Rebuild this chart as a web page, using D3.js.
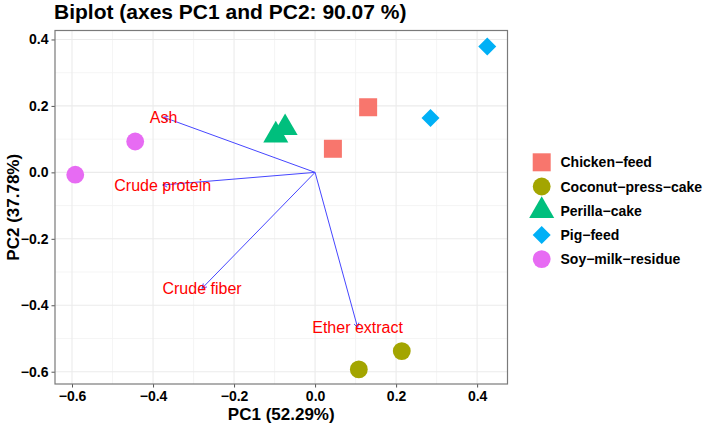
<!DOCTYPE html>
<html>
<head>
<meta charset="utf-8">
<script src="https://d3js.org/d3.v7.min.js" charset="utf-8"></script>
<style>
  body { margin: 0; background: #fff; }
  text { font-family: "Liberation Sans", Arial, Helvetica, sans-serif; }
  .tick text { font-weight: bold; fill: #000; }
</style>
</head>
<body>
<svg id="biplot" width="707" height="426"></svg>
<script>
// group scores (PC1, PC2)
const groups = ["Chicken\u2212feed", "Coconut\u2212press\u2212cake", "Perilla\u2212cake", "Pig\u2212feed", "Soy\u2212milk\u2212residue"];
const groupColors = ["#F8766D", "#A3A500", "#00BF7D", "#00B0F6", "#E76BF3"];
const groupShapes = ["square", "circle", "triangle", "diamond", "circle"];

const pc1 = [0.044, 0.131, 0.108, 0.214, -0.097, -0.074, 0.285, 0.425, -0.444, -0.592];
const pc2 = [0.071, 0.196, -0.593, -0.538, 0.112, 0.134, 0.164, 0.379, 0.093, -0.007];
const sampleGroup = [0, 0, 1, 1, 2, 2, 3, 3, 4, 4];

// variable loadings (arrows)
const variables = ["Ash", "Crude protein", "Crude fiber", "Ether extract"];
const loadX = [-0.374, -0.376, -0.279, 0.105];
const loadY = [0.166, -0.038, -0.349, -0.467];

const xTicks = [-0.6, -0.4, -0.2, 0.0, 0.2, 0.4];
const yTicks = [-0.6, -0.4, -0.2, 0.0, 0.2, 0.4];
const xMinor = [-0.5, -0.3, -0.1, 0.1, 0.3];
const yMinor = [-0.5, -0.3, -0.1, 0.1, 0.3];

const svg = d3.select("#biplot");
const panel = { left: 55, right: 507.5, top: 30.5, bottom: 384 };

const x = d3.scaleLinear().domain([-0.642, 0.475]).range([panel.left, panel.right]);
const y = d3.scaleLinear().domain([-0.637, 0.427]).range([panel.bottom, panel.top]);

// title
svg.append("text")
    .attr("x", 54).attr("y", 19)
    .attr("font-size", 21).attr("font-weight", "bold")
    .text("Biplot (axes PC1 and PC2: 90.07 %)");

// gridlines
const grid = svg.append("g");
grid.selectAll("line.xminor").data(xMinor).join("line")
    .attr("x1", d => x(d)).attr("x2", d => x(d))
    .attr("y1", panel.top).attr("y2", panel.bottom)
    .attr("stroke", "#f3f3f3").attr("stroke-width", 0.8);
grid.selectAll("line.yminor").data(yMinor).join("line")
    .attr("y1", d => y(d)).attr("y2", d => y(d))
    .attr("x1", panel.left).attr("x2", panel.right)
    .attr("stroke", "#f3f3f3").attr("stroke-width", 0.8);
grid.selectAll("line.xmajor").data(xTicks).join("line")
    .attr("x1", d => x(d)).attr("x2", d => x(d))
    .attr("y1", panel.top).attr("y2", panel.bottom)
    .attr("stroke", "#ebebeb").attr("stroke-width", 1.1);
grid.selectAll("line.ymajor").data(yTicks).join("line")
    .attr("y1", d => y(d)).attr("y2", d => y(d))
    .attr("x1", panel.left).attr("x2", panel.right)
    .attr("stroke", "#ebebeb").attr("stroke-width", 1.1);

// axes
const fmt = d => (d < 0 ? "\u2212" : "") + Math.abs(d).toFixed(1);
const xAxis = svg.append("g")
    .attr("transform", `translate(0,${panel.bottom})`)
    .call(d3.axisBottom(x).tickValues(xTicks).tickFormat(fmt).tickSize(3.5).tickPadding(4));
const yAxis = svg.append("g")
    .attr("transform", `translate(${panel.left},0)`)
    .call(d3.axisLeft(y).tickValues(yTicks).tickFormat(fmt).tickSize(3.5).tickPadding(3));
[xAxis, yAxis].forEach(a => {
    a.select(".domain").remove();
    a.selectAll(".tick line").attr("stroke", "#555");
    a.selectAll(".tick text").attr("font-size", 14);
});

// panel border
svg.append("rect")
    .attr("x", panel.left).attr("y", panel.top)
    .attr("width", panel.right - panel.left).attr("height", panel.bottom - panel.top)
    .attr("fill", "none").attr("stroke", "#7a7a7a").attr("stroke-width", 1.2);

// axis titles
svg.append("text")
    .attr("x", (panel.left + panel.right) / 2).attr("y", 420)
    .attr("text-anchor", "middle").attr("font-size", 17).attr("font-weight", "bold")
    .text("PC1 (52.29%)");
svg.append("text")
    .attr("transform", `translate(19,${(panel.top + panel.bottom) / 2}) rotate(-90)`)
    .attr("text-anchor", "middle").attr("font-size", 17).attr("font-weight", "bold")
    .text("PC2 (37.78%)");

// symbols
function shapePath(shape) {
    if (shape === "square") return d3.symbol(d3.symbolSquare, 324)();
    if (shape === "triangle") return d3.symbol(d3.symbolTriangle, 272)();
    if (shape === "diamond") return d3.symbol(d3.symbolSquare, 162)();
    return d3.symbol(d3.symbolCircle, 250)();
}
function shapeTransform(shape, px, py) {
    return `translate(${px},${py})` + (shape === "diamond" ? " rotate(45)" : "");
}

// arrows
const origin = [x(0), y(0)];
const arrows = svg.append("g").attr("stroke", "#4646ff").attr("stroke-width", 1).attr("fill", "none");
variables.forEach((v, i) => {
    const ex = x(loadX[i]), ey = y(loadY[i]);
    arrows.append("line")
        .attr("x1", origin[0]).attr("y1", origin[1])
        .attr("x2", ex).attr("y2", ey);
    const ang = Math.atan2(ey - origin[1], ex - origin[0]);
    const len = 5, spread = Math.PI / 6;
    const p1 = [ex - len * Math.cos(ang - spread), ey - len * Math.sin(ang - spread)];
    const p2 = [ex - len * Math.cos(ang + spread), ey - len * Math.sin(ang + spread)];
    arrows.append("path").attr("d", `M${p1}L${ex},${ey}L${p2}`);
});

// points
svg.append("g").selectAll("path")
    .data(d3.range(pc1.length))
    .join("path")
    .attr("d", i => shapePath(groupShapes[sampleGroup[i]]))
    .attr("transform", i => shapeTransform(groupShapes[sampleGroup[i]], x(pc1[i]), y(pc2[i])))
    .attr("fill", i => groupColors[sampleGroup[i]]);

// variable labels
svg.append("g").selectAll("text")
    .data(variables)
    .join("text")
    .attr("x", (d, i) => x(loadX[i]))
    .attr("y", (d, i) => y(loadY[i]))
    .attr("dy", "0.35em")
    .attr("text-anchor", "middle")
    .attr("font-size", 16)
    .attr("fill", "#ff0000")
    .text(d => d);

// legend
const legend = svg.append("g");
groups.forEach((g, i) => {
    const ly = 162.3 + i * 24.2;
    legend.append("path")
        .attr("d", shapePath(groupShapes[i]))
        .attr("transform", shapeTransform(groupShapes[i], 541.7, ly))
        .attr("fill", groupColors[i]);
    legend.append("text")
        .attr("x", 560.5).attr("y", ly).attr("dy", "0.36em")
        .attr("font-size", 14).attr("font-weight", "bold")
        .text(g);
});
</script>
</body>
</html>
